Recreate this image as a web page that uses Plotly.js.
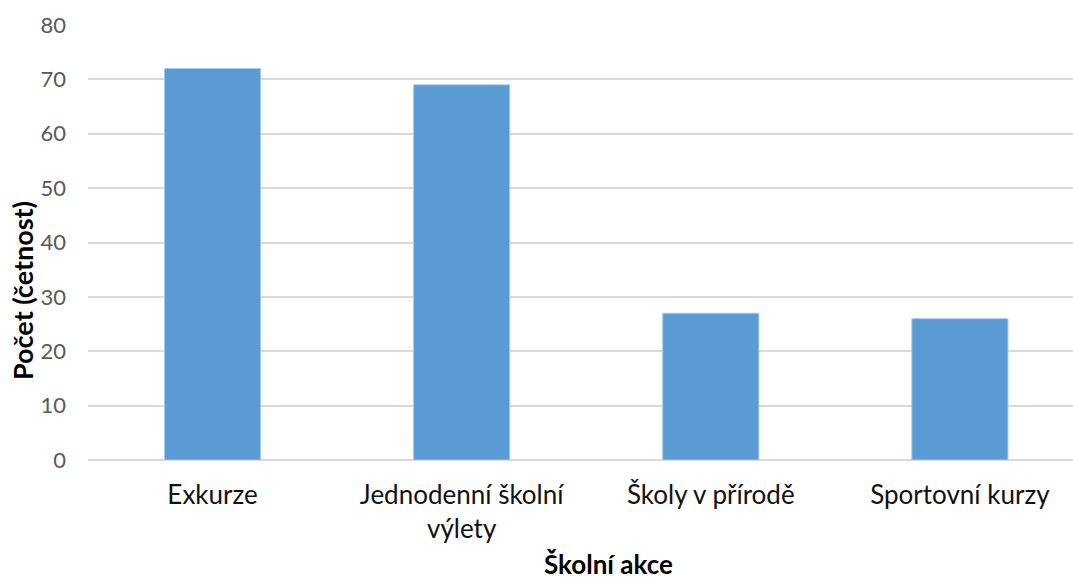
<!DOCTYPE html>
<html>
<head>
<meta charset="utf-8">
<script src="https://cdn.plot.ly/plotly-3.0.1.min.js"></script>
<style>html,body{margin:0;padding:0;background:#fff}#chart{width:1073px;height:583px}</style>
</head>
<body>
<div id="chart"></div>
<script>
const categories = ["Exkurze", "Jednodenní školní<br>výlety", "Školy v přírodě", "Sportovní kurzy"];
const values = [72, 69, 27, 26];
const yTicks = [0, 10, 20, 30, 40, 50, 60, 70, 80];
const xTitle = "Školní akce";
const yTitle = "Počet (četnost)";

const trace = {
  type: "bar",
  x: categories,
  y: values,
  width: 0.386,
  marker: {color: "#5B9BD5", line: {color: "#A9CBEA", width: 1}},
  hoverinfo: "x+y"
};

const layout = {
  width: 1073, height: 583,
  margin: {l: 88, r: 0, t: 25, b: 123, pad: 0},
  paper_bgcolor: "#fff", plot_bgcolor: "#fff",
  font: {family: "Lato, 'Liberation Sans', sans-serif", size: 20, color: "#000"},
  showlegend: false,
  xaxis: {
    type: "category",
    range: [-0.5, 3.454],
    showgrid: false, zeroline: false, showline: false,
    ticks: "", ticklabelstandoff: 17,
    tickfont: {size: 26, color: "#111"},
    automargin: false
  },
  yaxis: {
    range: [0, 80],
    tickvals: yTicks,
    ticktext: yTicks.map(String),
    showgrid: true, gridcolor: "#D9D9D9", gridwidth: 2,
    zeroline: true, zerolinecolor: "#D9D9D9", zerolinewidth: 2,
    showline: false, ticks: "", ticklabelstandoff: 21,
    tickfont: {size: 22, color: "#595959"},
    automargin: false
  },
  annotations: [
    {text: "<b>" + xTitle + "</b>", xref: "paper", yref: "paper",
     x: (608 - 88) / 985, y: -(564 - 460) / 435, xanchor: "center", yanchor: "middle",
     showarrow: false, font: {size: 26, color: "#000"}},
    {text: "<b>" + yTitle + "</b>", xref: "paper", yref: "paper", textangle: -90,
     x: -(88 - 22) / 985, y: (460 - 291) / 435, xanchor: "center", yanchor: "middle",
     showarrow: false, font: {size: 27, color: "#000"}}
  ]
};

Plotly.newPlot("chart", [trace], layout, {displayModeBar: false, staticPlot: true});
</script>
</body>
</html>
